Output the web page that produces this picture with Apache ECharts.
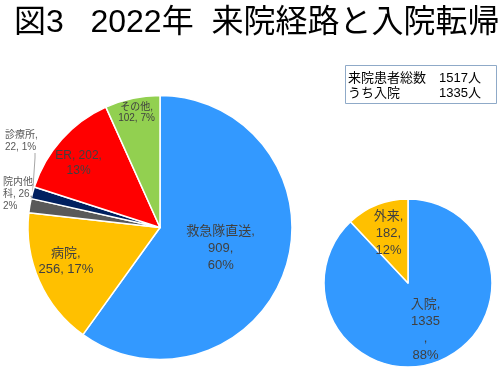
<!DOCTYPE html>
<html><head><meta charset="utf-8">
<script src="https://cdn.jsdelivr.net/npm/echarts@6/dist/echarts.min.js"></script>
<style>html,body{margin:0;padding:0;background:#fff}#c{width:503px;height:380px}</style>
</head><body><div id="c"></div>
<script>
const titleText = '図3   2022年  来院経路と入院転帰';
const routeNames = ['救急隊直送', '病院', '院内他科', '診療所', 'ER', 'その他'];
const routeValues = [909, 256, 26, 22, 202, 102];
const outcomeNames = ['入院', '外来'];
const outcomeValues = [1335, 182];
const boxLabels = ['来院患者総数', 'うち入院'];

const FONT = '"Liberation Sans", "Noto Sans CJK JP", sans-serif';
const routeColors = ['#3399FF', '#FFC000', '#595959', '#002060', '#FF0000', '#92D050'];
const outcomeColors = ['#3399FF', '#FFC000'];

const routeFmt = [
  (n, v, p) => n + ',\n' + v + ',\n' + p + '%',
  (n, v, p) => n + ',\n' + v + ', ' + p + '%',
  (n, v, p) => n.slice(0, 3) + '\n' + n.slice(3) + ', ' + v + ',\n' + p + '%',
  (n, v, p) => n + ',\n' + v + ', ' + p + '%',
  (n, v, p) => n + ', ' + v + ',\n' + p + '%',
  (n, v, p) => n + ',\n' + v + ', ' + p + '%'
];
const outcomeFmt = [
  (n, v, p) => n + ',\n' + v + '\n,\n' + p + '%',
  (n, v, p) => n + ',\n' + v + ',\n' + p + '%'
];
// label styling / offsets (not data)
const routeLabelFont = [[13, 17], [13, 16], [10, 12], [10, 12], [12, 15], [10, 11]];
const routeLabelShift = [[-5, 0], [-31, 6], null, null, [-30, -18], [-9, -47]];
const routeLabelOutside = [null, null, [3, 176], [5, 129], null, null];
const outcomeLabelShift = [[1, 5], [-3, -8]];

const total = routeValues.reduce((a, b) => a + b, 0);

const chart = echarts.init(document.getElementById('c'), null, {renderer: 'canvas'});

const routeData = routeNames.map((n, i) => {
  const d = {name: n, value: routeValues[i], itemStyle: {color: routeColors[i]},
    label: {fontSize: routeLabelFont[i][0], lineHeight: routeLabelFont[i][1]}};
  if (routeLabelOutside[i]) {
    d.label.position = 'outside';
    d.label.color = '#595959';
    d.label.overflow = 'none';
    d.label.width = 60;
    d.labelLine = {show: true, length: 10, length2: 5, lineStyle: {color: '#A6A6A6', width: 1}};
  }
  return d;
});
const outcomeData = outcomeNames.map((n, i) => ({name: n, value: outcomeValues[i], itemStyle: {color: outcomeColors[i]}}));

chart.setOption({
  animation: false,
  title: {
    text: titleText, left: 9, top: 2,
    textStyle: {fontFamily: FONT, fontSize: 32, fontWeight: 'normal', color: '#000'}
  },
  graphic: [
    {type: 'rect', shape: {x: 345.5, y: 65.5, width: 151, height: 38}, style: {fill: '#fff', stroke: '#8FAAC8', lineWidth: 1}},
    {type: 'text', x: 348, y: 78, style: {text: boxLabels[0], font: '13px ' + FONT, fill: '#000', textVerticalAlign: 'middle'}},
    {type: 'text', x: 481, y: 78, style: {text: total + '人', font: '13px ' + FONT, fill: '#000', textAlign: 'right', textVerticalAlign: 'middle'}},
    {type: 'text', x: 348, y: 93, style: {text: boxLabels[1], font: '13px ' + FONT, fill: '#000', textVerticalAlign: 'middle'}},
    {type: 'text', x: 481, y: 93, style: {text: outcomeValues[0] + '人', font: '13px ' + FONT, fill: '#000', textAlign: 'right', textVerticalAlign: 'middle'}}
  ],
  series: [
    {
      type: 'pie', center: [160, 227.5], radius: [0, 132], startAngle: 90, clockwise: true,
      percentPrecision: 0, avoidLabelOverlap: false,
      itemStyle: {borderColor: '#fff', borderWidth: 1.5},
      label: {
        show: true, position: 'inside', fontFamily: FONT, fontSize: 13, lineHeight: 17, color: '#404040',
        formatter: p => routeFmt[p.dataIndex](p.name, p.value, Math.round(p.percent))
      },
      labelLine: {show: false},
      emphasis: {disabled: true},
      labelLayout: p => {
        const o = routeLabelOutside[p.dataIndex];
        if (o) return {x: o[0], y: o[1], align: 'left', verticalAlign: 'top'};
        const s = routeLabelShift[p.dataIndex];
        return s ? {dx: s[0], dy: s[1]} : {};
      },
      data: routeData
    },
    {
      type: 'pie', center: [408, 283], radius: [0, 84], startAngle: 90, clockwise: true,
      percentPrecision: 0, avoidLabelOverlap: false,
      itemStyle: {borderColor: '#fff', borderWidth: 1.5},
      label: {
        show: true, position: 'inside', fontFamily: FONT, fontSize: 13, lineHeight: 17, color: '#404040',
        formatter: p => outcomeFmt[p.dataIndex](p.name, p.value, Math.round(p.percent))
      },
      labelLine: {show: false},
      emphasis: {disabled: true},
      labelLayout: p => {
        const s = outcomeLabelShift[p.dataIndex];
        return {dx: s[0], dy: s[1]};
      },
      data: outcomeData
    }
  ]
});
</script>
</body></html>
